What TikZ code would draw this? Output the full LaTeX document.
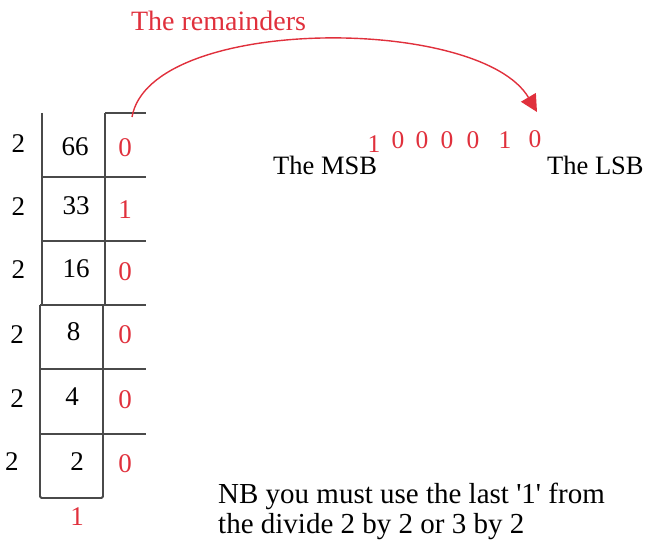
\documentclass[tikz,border=0pt]{standalone}
\usepackage{fontspec}
\setmainfont{Liberation Serif}
\usetikzlibrary{arrows.meta}
\definecolor{remred}{HTML}{E0303C}
\definecolor{gridc}{HTML}{4A4A4A}
\begin{document}
\begin{tikzpicture}[x=1pt,y=-1pt,
  txt/.style={inner sep=0pt, anchor=base, font=\fontsize{27}{30}\selectfont},
  redtxt/.style={txt, text=remred},
  bintxt/.style={inner sep=0pt, anchor=base, font=\fontsize{25.5}{30}\selectfont, text=remred},
  gridline/.style={draw=gridc, line width=1.8pt},
  arr/.style={draw=remred, line width=1.4pt, -{Triangle[length=17pt,width=17pt]}}]
\useasboundingbox (0,0) rectangle (646,543);
% grid lines
\draw[gridline] (42,113) -- (42,305);
\draw[gridline, rounded corners=1.5pt] (40,305) -- (40,498) -- (103,498) -- (103,305);
\draw[gridline] (105,113) -- (146,113);
\draw[gridline] (105,113) -- (105,305);
\foreach \yy in {177,241} \draw[gridline] (42,\yy) -- (146,\yy);
\foreach \yy in {305,369,434} \draw[gridline] (40,\yy) -- (146,\yy);
% divisors
\node[txt] (d1) at (18.5,152) {2};
\node[txt] (d2) at (18.5,215) {2};
\node[txt] (d3) at (18.5,278) {2};
\node[txt] (d4) at (17,343) {2};
\node[txt] (d5) at (17,407) {2};
\node[txt] (d6) at (12,470) {2};
% quotients
\node[txt] (q1) at (75,155) {66};
\node[txt] (q2) at (76,214) {33};
\node[txt] (q3) at (76,277) {16};
\node[txt] (q4) at (73.5,340) {8};
\node[txt] (q5) at (72,405) {4};
\node[txt] (q6) at (77,470) {2};
\node[redtxt] (q7) at (77,525) {1};
% remainders
\node[redtxt] (r1) at (125,157) {0};
\node[redtxt] (r2) at (125,218) {1};
\node[redtxt] (r3) at (125,280) {0};
\node[redtxt] (r4) at (125,343) {0};
\node[redtxt] (r5) at (125,408) {0};
\node[redtxt] (r6) at (125,472) {0};
% title
\node[inner sep=0pt, anchor=base, font=\fontsize{28}{32}\selectfont, text=remred] (title) at (218.5,31) {The remainders};
% binary result
\node[bintxt] (b1) at (374,152) {1};
\node[bintxt] (b2) at (398,149) {0};
\node[bintxt] (b3) at (422,149) {0};
\node[bintxt] (b4) at (447,149) {0};
\node[bintxt] (b5) at (473,149) {0};
\node[bintxt] (b6) at (505,149) {1};
\node[bintxt] (b7) at (535,147) {0};
\node[inner sep=0pt, anchor=base west, font=\fontsize{26.5}{30}\selectfont] (msb) at (273,175) {The MSB};
\node[inner sep=0pt, anchor=base west, font=\fontsize{26.5}{30}\selectfont] (lsb) at (547,175) {The LSB};
% note
\node[inner sep=0pt, anchor=base west, font=\fontsize{29}{30}\selectfont] (nb1) at (218,503) {NB you must use the last \textquotesingle1\textquotesingle{} from};
\node[inner sep=0pt, anchor=base west, font=\fontsize{29}{30}\selectfont] (nb2) at (218,533) {the divide 2 by 2 or 3 by 2};
% arrow
\coordinate (astart) at (132,117);
\coordinate (aend) at (537,112);
\draw[arr] (astart) .. controls (150,15) and (480,15) .. (aend);
\end{tikzpicture}
\end{document}
